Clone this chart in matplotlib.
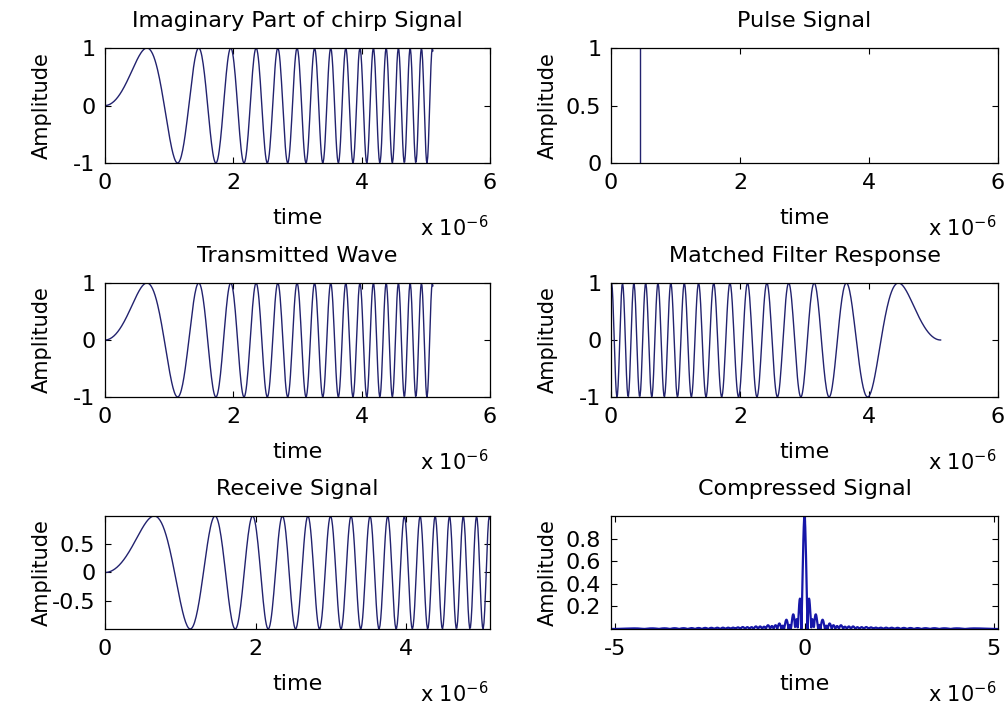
import numpy as np
import matplotlib
matplotlib.use("Agg")
import matplotlib.pyplot as plt

W, H, DPI = 1005, 706, 100
LINE = "#22226e"
plt.rcParams["font.family"] = ["DejaVu Sans"]
plt.rcParams["axes.unicode_minus"] = False

# chirp parameters: first crest at ~0.65 us,
# pulse ends at ~5.1 us, about 5-6 MHz at the end of the sweep
PULSE_WIDTH = 5.12      # us
BANDWIDTH = 6.0         # MHz
N_SAMPLES = 512

# the single pulse in the top right panel
PULSE_TIME = [0.45, 0.45]   # us
PULSE_AMP = [0.0, 1.0]

TITLES = ["Imaginary Part of chirp Signal", "Pulse Signal",
          "Transmitted Wave", "Matched Filter Response",
          "Receive Signal", "Compressed Signal"]

# signals -------------------------------------------------------------
t = np.arange(N_SAMPLES) * PULSE_WIDTH / N_SAMPLES
k = BANDWIDTH / PULSE_WIDTH
chirp = np.sin(np.pi * k * t ** 2)
matched = chirp[::-1]
corr = np.correlate(chirp, chirp, mode="full")
compressed = np.abs(corr) / np.abs(corr).max()
lags = np.arange(-(N_SAMPLES - 1), N_SAMPLES) * PULSE_WIDTH / N_SAMPLES


def rect(left, top, w, h):
    return [left / W, 1 - (top + h) / H, w / W, h / H]


def dress(ax, title):
    ax.tick_params(direction="in", length=4, width=0.8, top=True, right=True,
                   labelsize=16, pad=7)
    for s in ax.spines.values():
        s.set_linewidth(0.9)
    ax.annotate(title, (0.5, 1), xycoords="axes fraction",
                xytext=(0, 21), textcoords="offset pixels",
                ha="center", va="baseline", fontsize=16)
    ax.annotate("time", (0.5, 0), xycoords="axes fraction",
                xytext=(0, -61), textcoords="offset pixels",
                ha="center", va="baseline", fontsize=16)
    ax.annotate("x 10$^{-6}$", (1, 0), xycoords="axes fraction",
                xytext=(-2, -73), textcoords="offset pixels",
                ha="right", va="baseline", fontsize=15)
    ax.annotate("Amplitude", (0, 0.5), xycoords="axes fraction",
                xytext=(-63, 0), textcoords="offset pixels",
                ha="center", va="center", rotation=90, fontsize=15)


fig = plt.figure(figsize=(W / DPI, H / DPI), dpi=DPI, facecolor="white")

lefts = [105, 611]
widths = [385, 387]
tops = [48, 283, 516]
heights = [115, 114, 113]
axs = [[fig.add_axes(rect(lefts[c], tops[r], widths[c], heights[r]))
        for c in range(2)] for r in range(3)]

# imaginary part
ax = axs[0][0]
ax.plot(t, chirp, color=LINE, lw=1)
ax.set_xlim(0, 6)
ax.set_ylim(-1, 1)
ax.set_xticks([0, 2, 4, 6])
ax.set_yticks([-1, 0, 1])
dress(ax, TITLES[0])

# pulse
ax = axs[0][1]
ax.plot(PULSE_TIME, PULSE_AMP, color=LINE, lw=1)
ax.set_xlim(0, 6)
ax.set_ylim(0, 1)
ax.set_xticks([0, 2, 4, 6])
ax.set_yticks([0, 0.5, 1])
ax.set_yticklabels(["0", "0.5", "1"])
dress(ax, TITLES[1])

# transmitted
ax = axs[1][0]
ax.plot(t, chirp, color=LINE, lw=1)
ax.set_xlim(0, 6)
ax.set_ylim(-1, 1)
ax.set_xticks([0, 2, 4, 6])
ax.set_yticks([-1, 0, 1])
dress(ax, TITLES[2])

# matched filter
ax = axs[1][1]
ax.plot(t, matched, color=LINE, lw=1)
ax.set_xlim(0, 6)
ax.set_ylim(-1, 1)
ax.set_xticks([0, 2, 4, 6])
ax.set_yticks([-1, 0, 1])
dress(ax, TITLES[3])

# received, axis tight
ax = axs[2][0]
ax.plot(t, chirp, color=LINE, lw=1)
ax.set_xlim(t.min(), t.max())
ax.set_ylim(chirp.min(), chirp.max())
ax.set_xticks([0, 2, 4])
ax.set_yticks([-0.5, 0, 0.5])
ax.set_yticklabels(["-0.5", "0", "0.5"])
dress(ax, TITLES[4])

# compressed
ax = axs[2][1]
ax.plot(lags, compressed, color="#1616a8", lw=1.6)
ax.set_xlim(lags.min(), lags.max())
ax.set_ylim(compressed.min(), compressed.max())
ax.set_xticks([-5, 0, 5])
ax.set_yticks([0.2, 0.4, 0.6, 0.8])
ax.set_yticklabels(["0.2", "0.4", "0.6", "0.8"])
dress(ax, TITLES[5])

fig.savefig("out.png", dpi=DPI, facecolor="white")
